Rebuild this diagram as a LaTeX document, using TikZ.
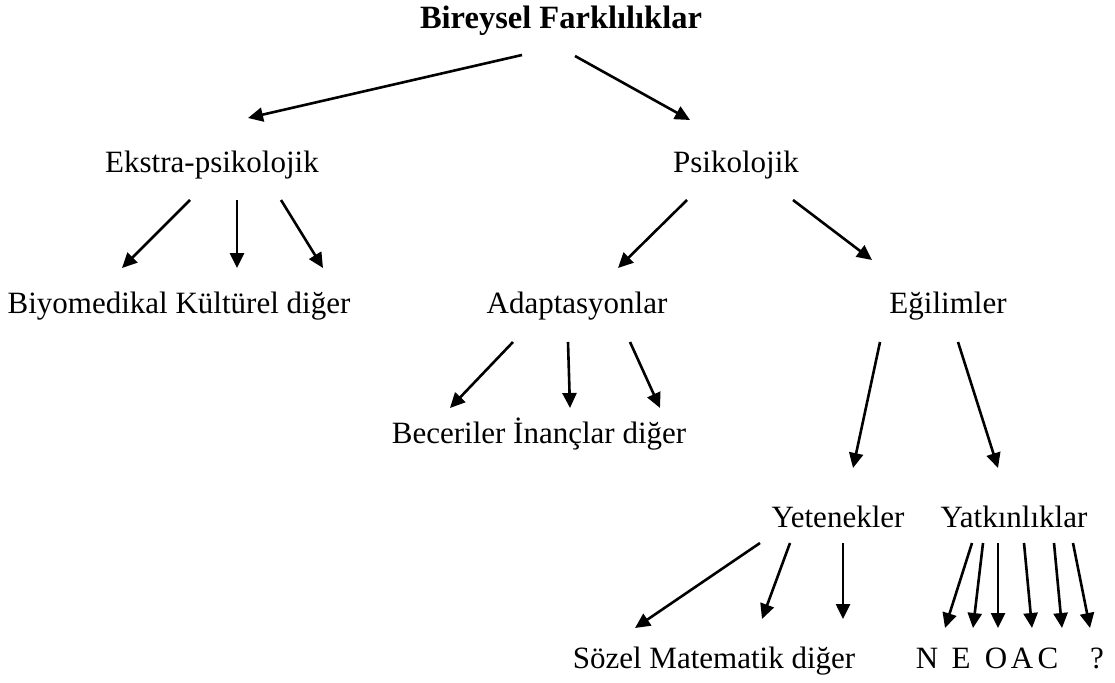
\documentclass[tikz,border=0pt]{standalone}
\usepackage{fontspec}
\setmainfont{Liberation Serif}
\usetikzlibrary{arrows.meta,calc}

\begin{document}
\begin{tikzpicture}[x=1pt,y=-1pt,
        label/.style={anchor=base,inner sep=0pt,font=\fontsize{31}{37}\selectfont},
        ok/.style={line width=2.6pt,-{Triangle[length=15pt,width=14pt]}}]
        \useasboundingbox (0,0) rectangle (1115,682);

        % Draw labels
        \node[label,font=\fontsize{32.5}{38}\selectfont\bfseries] (bireysel) at (561,29) {Bireysel Farklılıklar};
        \node[label] (ekstra) at (212,172) {Ekstra-psikolojik};
        \node[label] (psiko) at (736,172) {Psikolojik};
        \node[label] (ekstraalt) at (179,313) {Biyomedikal Kültürel diğer};
        \node[label] (adapt) at (577,313) {Adaptasyonlar};
        \node[label] (egilim) at (948,313) {Eğilimler};
        \node[label] (adaptalt) at (539,443) {Beceriler İnançlar diğer};
        \node[label] (yetenek) at (838,527) {Yetenekler};
        \node[label] (yatkin) at (1014,527) {Yatkınlıklar};
        \node[label] (yetenekalt) at (714,668) {Sözel Matematik diğer};
        \foreach \harf/\x [count=\i] in {N/927,E/961,O/996,A/1022,C/1048,?/1097}
           {
                \node[label] (harf\i) at (\x,668) {\harf};
           }

        % Draw arrows
        \draw[ok] ($(bireysel.base)+(-39,26)$) -- ($(ekstra.base)+(36,-54)$);
        \draw[ok] ($(bireysel.base)+(14,27)$) -- ($(psiko.base)+(-46,-52)$);

        \draw[ok] ($(ekstra.base)+(-22,28)$) -- ($(ekstraalt.base)+(-57,-45)$);
        \draw[ok] ($(ekstra.base)+(25,28)$) -- ($(ekstraalt.base)+(58,-45)$);
        \draw[ok] ($(ekstra.base)+(69,28)$) -- ($(ekstraalt.base)+(144,-45)$);

        \draw[ok] ($(psiko.base)+(-49,28)$) -- ($(adapt.base)+(41,-45)$);
        \draw[ok] ($(psiko.base)+(57,28)$) -- ($(egilim.base)+(-76,-53)$);

        \draw[ok] ($(adapt.base)+(-64,29)$) -- ($(adaptalt.base)+(-89,-35)$);
        \draw[ok] ($(adapt.base)+(-9,29)$) -- ($(adaptalt.base)+(31,-35)$);
        \draw[ok] ($(adapt.base)+(53,29)$) -- ($(adaptalt.base)+(121,-35)$);

        \draw[ok] ($(egilim.base)+(-68,29)$) -- ($(yetenek.base)+(15,-59)$);
        \draw[ok] ($(egilim.base)+(10,29)$) -- ($(yatkin.base)+(-16,-59)$);

        \draw[ok] ($(yetenek.base)+(-78,16)$) -- ($(yetenekalt.base)+(-79,-40)$);
        \draw[ok] ($(yetenek.base)+(-48,16)$) -- ($(yetenekalt.base)+(48,-49)$);
        \draw[ok] ($(yetenek.base)+(5,16)$) -- ($(yetenekalt.base)+(129,-49)$);

        \foreach \i/\bas/\uc in {1/-42/18,2/-31/12,3/-16/2,4/10/10,5/40/14,6/59/-7}
           {
                \draw[ok] ($(yatkin.base)+(\bas,16)$) -- ($(harf\i.base)+(\uc,-40)$);
           }
    \end{tikzpicture}
\end{document}
